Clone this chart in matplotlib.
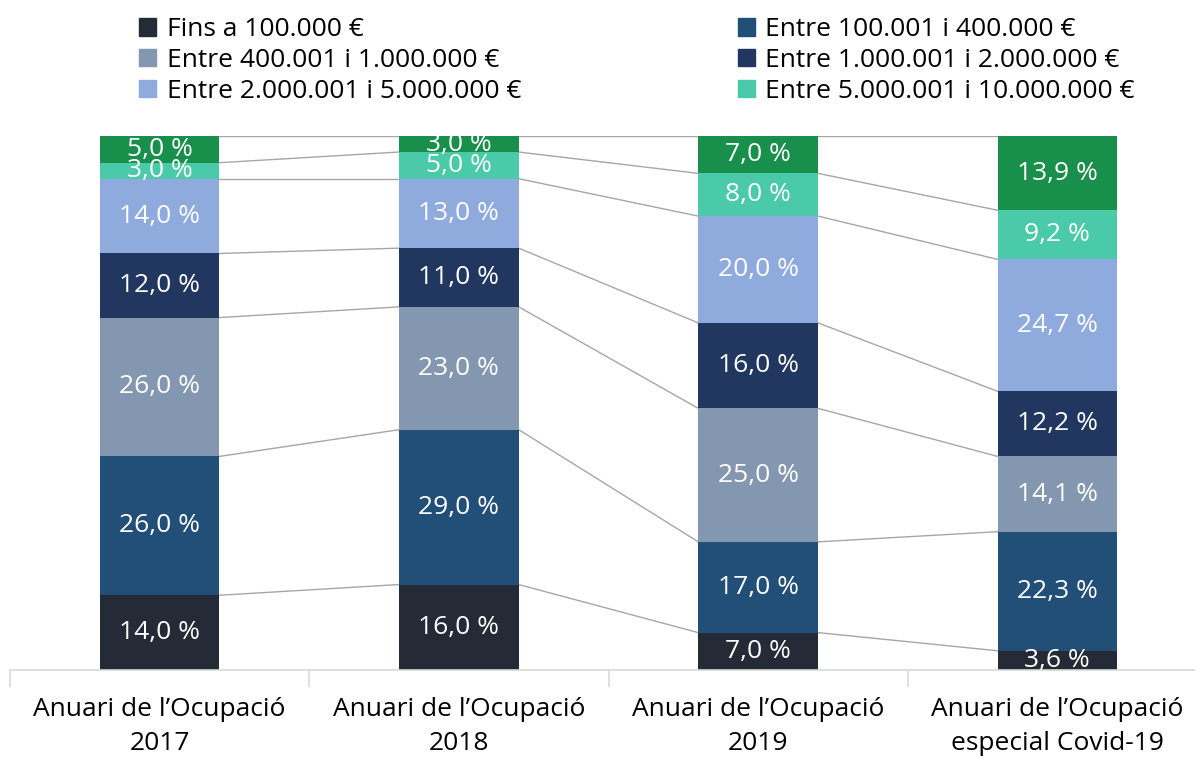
import numpy as np
import matplotlib
matplotlib.use('Agg')
import matplotlib.pyplot as plt
from matplotlib.patches import Patch

plt.rcParams['font.family'] = ['Open Sans', 'DejaVu Sans']

categories = ["Anuari de l’Ocupació\n2017", "Anuari de l’Ocupació\n2018",
              "Anuari de l’Ocupació\n2019", "Anuari de l’Ocupació\nespecial Covid-19"]

series_names = ["Fins a 100.000 €", "Entre 100.001 i 400.000 €", "Entre 400.001 i 1.000.000 €",
                "Entre 1.000.001 i 2.000.000 €", "Entre 2.000.001 i 5.000.000 €",
                "Entre 5.000.001 i 10.000.000 €", "Més de 10.000.000 €"]

fins_100k = [14.0, 16.0, 7.0, 3.6]
de_100k_400k = [26.0, 29.0, 17.0, 22.3]
de_400k_1m = [26.0, 23.0, 25.0, 14.1]
de_1m_2m = [12.0, 11.0, 16.0, 12.2]
de_2m_5m = [14.0, 13.0, 20.0, 24.7]
de_5m_10m = [3.0, 5.0, 8.0, 9.2]
mes_10m = [5.0, 3.0, 7.0, 13.9]

colors = ['#242b37', '#214f78', '#8497b0', '#21375f', '#8faadc', '#4acaa8', '#188f4a']

data = np.array([fins_100k, de_100k_400k, de_400k_1m, de_1m_2m, de_2m_5m, de_5m_10m, mes_10m])

fig = plt.figure(figsize=(11.95, 7.58), dpi=100)
ax = fig.add_axes([10 / 1195, 88 / 758, 1197 / 1195, 534 / 758])

x = np.arange(len(categories))
w = 0.4
bottom = np.zeros(len(categories))
for i in range(len(data)):
    vals = data[i]
    ax.bar(x, vals, w, bottom=bottom, color=colors[i], edgecolor='none', zorder=2)
    for xi, v, b in zip(x, vals, bottom):
        ax.text(xi, b + v / 2, f"{v:.1f} %".replace('.', ','), ha='center', va='center',
                color='white', fontsize=19, zorder=4)
    bottom = bottom + vals
    # series lines between bars
    for j in range(len(x) - 1):
        ax.plot([x[j] + w / 2, x[j + 1] - w / 2], [bottom[j], bottom[j + 1]],
                color='#a6a6a6', lw=1, zorder=1)

ax.set_xlim(-0.5, 3.5)
ax.set_ylim(0, 100)
ax.set_yticks([])
for s in ['top', 'right', 'left']:
    ax.spines[s].set_visible(False)
ax.spines['bottom'].set_color('#d9d9d9')
ax.spines['bottom'].set_linewidth(1.2)
ax.set_xticks([-0.5, 0.5, 1.5, 2.5, 3.5])
ax.set_xticklabels([])
ax.tick_params(axis='x', length=12, color='#d9d9d9', width=1.2)
for xi, lab in zip(x, categories):
    ax.text(xi, -5.0, lab, ha='center', va='top', fontsize=19, color='black',
            linespacing=1.5)

handles = [Patch(color=colors[k]) for k in [0, 2, 4, 1, 3, 5]]
labels = [series_names[k] for k in [0, 2, 4, 1, 3, 5]]
fig.legend(handles, labels, ncol=2, loc='upper left', bbox_to_anchor=(122 / 1195, 1.0),
           frameon=False, fontsize=19, handlelength=0.65, handleheight=0.65,
           handletextpad=0.4, columnspacing=8.2, labelspacing=0.22, borderaxespad=0.25)

fig.savefig('out.png', dpi=100)
